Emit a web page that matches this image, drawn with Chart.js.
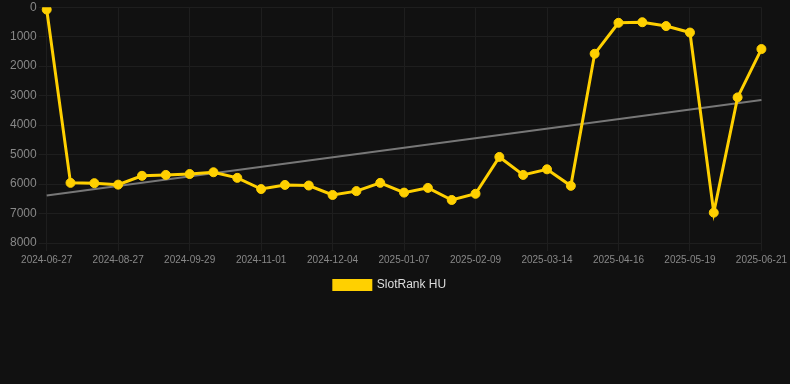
<!DOCTYPE html>
<html><head><meta charset="utf-8">
<script src="https://cdn.jsdelivr.net/npm/chart.js@4"></script>
<style>
html,body{margin:0;padding:0;background:#111111;overflow:hidden;}
#wrap{width:790px;height:303px;position:relative;margin-top:-2px;}
</style></head>
<body><div id="wrap"><canvas id="c"></canvas></div>
<script>
const labels = ["2024-06-27","2024-07-17","2024-08-06","2024-08-27","2024-09-07","2024-09-18","2024-09-29","2024-10-10","2024-10-21","2024-11-01","2024-11-12","2024-11-23","2024-12-04","2024-12-15","2024-12-26","2025-01-07","2025-01-18","2025-01-29","2025-02-09","2025-02-20","2025-03-03","2025-03-14","2025-03-25","2025-04-05","2025-04-16","2025-04-27","2025-05-08","2025-05-19","2025-05-30","2025-06-10","2025-06-21"];
const rankValues = [80,5960,5970,6020,5720,5690,5660,5600,5790,6170,6030,6050,6370,6240,5960,6290,6130,6540,6330,5080,5690,5500,6060,1580,530,510,640,860,6970,3060,1420];
const trendStart = 6390;
const trendEnd = 3150;
const trendValues = labels.map((_, i) => i === 0 ? trendStart : (i === labels.length - 1 ? trendEnd : null));
const yTicks = [0,1000,2000,3000,4000,5000,6000,7000,8000];

new Chart(document.getElementById('c'), {
  type: 'line',
  data: {
    labels: labels,
    datasets: [
      {
        label: 'SlotRank HU',
        data: rankValues,
        borderColor: '#ffd000',
        backgroundColor: '#ffd000',
        borderWidth: 3,
        pointRadius: 4.5,
        pointBorderWidth: 1,
        pointHoverRadius: 4.5,
        tension: 0
      },
      {
        label: 'trend',
        data: trendValues,
        borderColor: '#777777',
        borderWidth: 2,
        pointRadius: 0,
        spanGaps: true,
        tension: 0
      }
    ]
  },
  options: {
    responsive: true,
    maintainAspectRatio: false,
    animation: false,
    layout: { padding: { left: 8, right: 18, top: 0, bottom: 0 } },
    plugins: {
      legend: {
        position: 'bottom',
        labels: {
          color: '#dddddd',
          font: { family: 'Liberation Sans, Arial, sans-serif', size: 12 },
          boxWidth: 37,
          boxHeight: 9,
          filter: (item) => item.text !== 'trend'
        }
      },
      tooltip: { enabled: false }
    },
    scales: {
      x: {
        grid: { color: '#1e1e1e' },
        border: { display: false },
        ticks: {
          color: '#888888',
          font: { family: 'Liberation Sans, Arial, sans-serif', size: 10 },
          maxRotation: 0,
          autoSkip: true
        }
      },
      y: {
        reverse: true,
        min: 0,
        max: 8000,
        afterBuildTicks: (axis) => { axis.ticks = yTicks.map(v => ({ value: v })); },
        grid: { color: '#1e1e1e' },
        border: { display: false },
        ticks: {
          color: '#888888',
          font: { family: 'Liberation Sans, Arial, sans-serif', size: 12 },
          padding: 2,
          callback: (v) => String(v)
        }
      }
    }
  }
});
</script></body></html>
